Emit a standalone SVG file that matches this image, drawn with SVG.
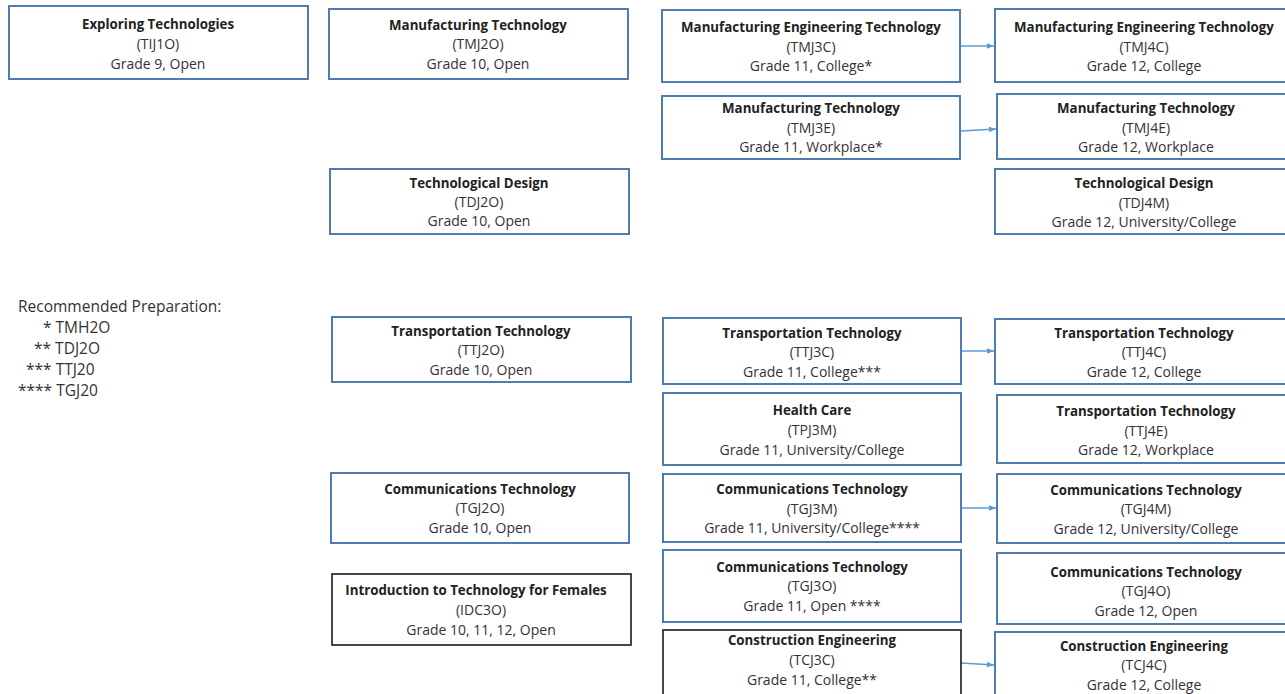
<svg xmlns="http://www.w3.org/2000/svg" width="1285" height="694" viewBox="0 0 1285 694">
<style>
.b{fill:#fff;stroke:#4f7cb0;stroke-width:2}
.k{fill:#fff;stroke:#1a1a1a;stroke-width:1.6}
text{font-family:"Open Sans",Lato,"Liberation Sans",sans-serif;font-size:14px;fill:#333;text-anchor:middle}
.t{font-weight:bold;fill:#222;font-size:13.3px}
.lg{font-size:15.5px;text-anchor:start;fill:#333}
.c{stroke:#5b9bd5;stroke-width:1.4;fill:none;marker-end:url(#ah)}
</style>
<defs>
<marker id="ah" viewBox="0 0 10 10" refX="10" refY="5" markerWidth="7" markerHeight="7" orient="auto" markerUnits="userSpaceOnUse"><path d="M0,1 L10,5 L0,9 z" fill="#5b9bd5"/></marker>
</defs>
<rect width="1285" height="694" fill="#fff"/>
<g id="connectors">
<line class="c" x1="961" y1="46" x2="994" y2="46"/>
<line class="c" x1="961" y1="131" x2="996" y2="129"/>
<line class="c" x1="961" y1="351" x2="994" y2="351"/>
<line class="c" x1="961" y1="508" x2="996" y2="508"/>
<line class="c" x1="961" y1="663" x2="994" y2="665"/>
</g>
<g id="n-tij1o"><rect class="b" x="9" y="6" width="299" height="73"/><text class="t" x="158" y="29">Exploring Technologies</text><text x="158" y="49">(TIJ1O)</text><text x="158" y="69">Grade 9, Open</text></g>
<g id="n-tmj2o"><rect class="b" x="329" y="9" width="299" height="70"/><text class="t" x="478" y="30">Manufacturing Technology</text><text x="478" y="49">(TMJ2O)</text><text x="478" y="69">Grade 10, Open</text></g>
<g id="n-tdj2o"><rect class="b" x="330" y="169" width="299" height="65"/><text class="t" x="479" y="188">Technological Design</text><text x="479" y="207">(TDJ2O)</text><text x="479" y="226">Grade 10, Open</text></g>
<g id="n-tmj3c"><rect class="b" x="662" y="10" width="298" height="72"/><text class="t" x="811" y="32">Manufacturing Engineering Technology</text><text x="811" y="52">(TMJ3C)</text><text x="811" y="71">Grade 11, College*</text></g>
<g id="n-tmj4c"><rect class="b" x="995" y="9" width="300" height="73"/><text class="t" x="1144" y="32">Manufacturing Engineering Technology</text><text x="1144" y="52">(TMJ4C)</text><text x="1144" y="71">Grade 12, College</text></g>
<g id="n-tmj3e"><rect class="b" x="662" y="96" width="298" height="63"/><text class="t" x="811" y="113">Manufacturing Technology</text><text x="811" y="133">(TMJ3E)</text><text x="811" y="152">Grade 11, Workplace*</text></g>
<g id="n-tmj4e"><rect class="b" x="997" y="94" width="300" height="65"/><text class="t" x="1146" y="113">Manufacturing Technology</text><text x="1146" y="133">(TMJ4E)</text><text x="1146" y="152">Grade 12, Workplace</text></g>
<g id="n-tdj4m"><rect class="b" x="995" y="169" width="300" height="65"/><text class="t" x="1144" y="188">Technological Design</text><text x="1144" y="208">(TDJ4M)</text><text x="1144" y="227">Grade 12, University/College</text></g>
<g id="legend"><text class="lg" x="18" y="312">Recommended Preparation:</text><text class="lg" x="43" y="333">* TMH2O</text><text class="lg" x="34" y="354">** TDJ2O</text><text class="lg" x="26" y="375">*** TTJ20</text><text class="lg" x="18" y="396">**** TGJ20</text></g>
<g id="n-ttj2o"><rect class="b" x="332" y="317" width="299" height="65"/><text class="t" x="481" y="336">Transportation Technology</text><text x="481" y="355">(TTJ2O)</text><text x="481" y="375">Grade 10, Open</text></g>
<g id="n-tgj2o"><rect class="b" x="331" y="473" width="298" height="70"/><text class="t" x="480" y="494">Communications Technology</text><text x="480" y="513">(TGJ2O)</text><text x="480" y="533">Grade 10, Open</text></g>
<g id="n-idc3o"><rect class="k" x="332" y="574" width="299" height="71"/><text class="t" x="476" y="595">Introduction to Technology for Females</text><text x="481" y="615">(IDC3O)</text><text x="481" y="635">Grade 10, 11, 12, Open</text></g>
<g id="n-ttj3c"><rect class="b" x="663" y="318" width="298" height="66"/><text class="t" x="812" y="338">Transportation Technology</text><text x="812" y="357">(TTJ3C)</text><text x="812" y="377">Grade 11, College***</text></g>
<g id="n-ttj4c"><rect class="b" x="995" y="319" width="300" height="65"/><text class="t" x="1144" y="338">Transportation Technology</text><text x="1144" y="357">(TTJ4C)</text><text x="1144" y="377">Grade 12, College</text></g>
<g id="n-tpj3m"><rect class="b" x="663" y="393" width="298" height="72"/><text class="t" x="812" y="415">Health Care</text><text x="812" y="435">(TPJ3M)</text><text x="812" y="455">Grade 11, University/College</text></g>
<g id="n-ttj4e"><rect class="b" x="997" y="395" width="300" height="68"/><text class="t" x="1146" y="416">Transportation Technology</text><text x="1146" y="436">(TTJ4E)</text><text x="1146" y="455">Grade 12, Workplace</text></g>
<g id="n-tgj3m"><rect class="b" x="663" y="474" width="298" height="68"/><text class="t" x="812" y="494">Communications Technology</text><text x="812" y="514">(TGJ3M)</text><text x="812" y="533">Grade 11, University/College****</text></g>
<g id="n-tgj4m"><rect class="b" x="997" y="474" width="300" height="69"/><text class="t" x="1146" y="495">Communications Technology</text><text x="1146" y="514">(TGJ4M)</text><text x="1146" y="534">Grade 12, University/College</text></g>
<g id="n-tgj3o"><rect class="b" x="663" y="550" width="298" height="72"/><text class="t" x="812" y="572">Communications Technology</text><text x="812" y="591">(TGJ3O)</text><text x="812" y="611">Grade 11, Open ****</text></g>
<g id="n-tgj4o"><rect class="b" x="997" y="553" width="300" height="71"/><text class="t" x="1146" y="577">Communications Technology</text><text x="1146" y="596">(TGJ4O)</text><text x="1146" y="616">Grade 12, Open</text></g>
<g id="n-tcj3c"><rect class="k" x="663" y="630" width="298" height="72"/><text class="t" x="812" y="645">Construction Engineering</text><text x="812" y="665">(TCJ3C)</text><text x="812" y="685">Grade 11, College**</text></g>
<g id="n-tcj4c"><rect class="b" x="995" y="632" width="300" height="70"/><text class="t" x="1144" y="651">Construction Engineering</text><text x="1144" y="670">(TCJ4C)</text><text x="1144" y="690">Grade 12, College</text></g>
</svg>
